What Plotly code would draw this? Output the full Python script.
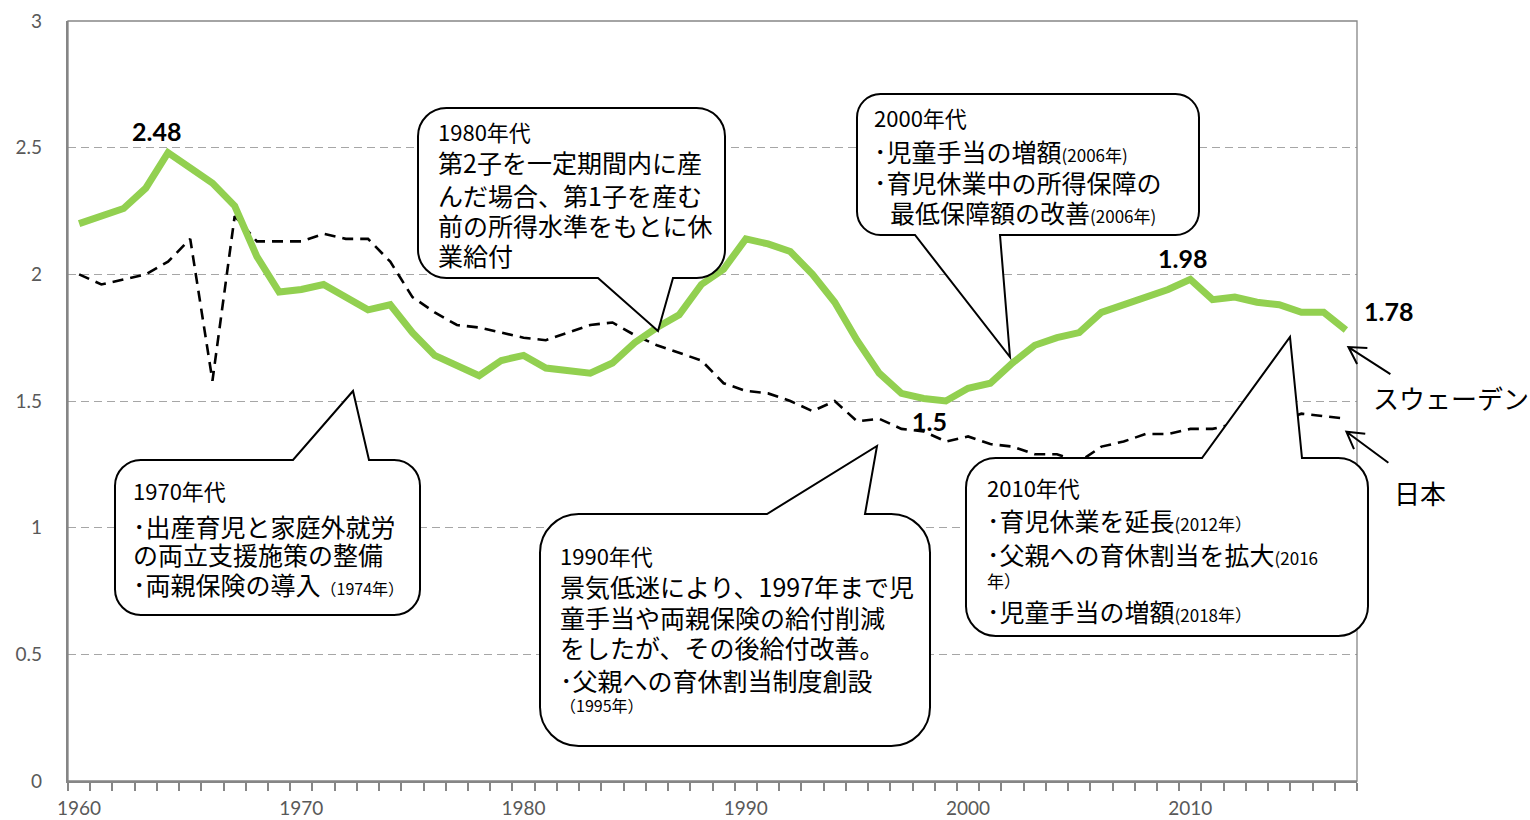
import math
import plotly.graph_objects as go

# Total fertility rate, 1960-2017
years = list(range(1960, 2018))
sweden = [2.20, 2.23, 2.26, 2.34, 2.48, 2.42, 2.36, 2.27, 2.07, 1.93,
          1.94, 1.96, 1.91, 1.86, 1.88, 1.77, 1.68, 1.64, 1.60, 1.66,
          1.68, 1.63, 1.62, 1.61, 1.65, 1.73, 1.79, 1.84, 1.96, 2.02,
          2.14, 2.12, 2.09, 2.00, 1.89, 1.74, 1.61, 1.53, 1.51, 1.50,
          1.55, 1.57, 1.65, 1.72, 1.75, 1.77, 1.85, 1.88, 1.91, 1.94,
          1.98, 1.90, 1.91, 1.89, 1.88, 1.85, 1.85, 1.78]
japan = [2.00, 1.96, 1.98, 2.00, 2.05, 2.14, 1.58, 2.23, 2.13, 2.13,
         2.13, 2.16, 2.14, 2.14, 2.05, 1.91, 1.85, 1.80, 1.79, 1.77,
         1.75, 1.74, 1.77, 1.80, 1.81, 1.76, 1.72, 1.69, 1.66, 1.57,
         1.54, 1.53, 1.50, 1.46, 1.50, 1.42, 1.43, 1.39, 1.38, 1.34,
         1.36, 1.33, 1.32, 1.29, 1.29, 1.26, 1.32, 1.34, 1.37, 1.37,
         1.39, 1.39, 1.41, 1.43, 1.42, 1.45, 1.44, 1.43]

x_tick_years = [1960, 1970, 1980, 1990, 2000, 2010]
y_ticks = [0, 0.5, 1, 1.5, 2, 2.5, 3]
y_tick_text = ["0", "0.5", "1", "1.5", "2", "2.5", "3"]

# years whose Sweden value is written next to the line
labelled_years = [1964, 1999, 2010, 2017]
label_shift = {1964: (-12, 22), 1999: (-16, -20), 2010: (-8, 21), 2017: (43, 19)}

series_names = ["スウェーデン", "日本"]

JP = "Noto Sans CJK JP"
NUM = "Lato"
GREEN = "#92D050"
AXIS_GRAY = "#868686"
GRID_GRAY = "#A6A6A6"
TICK_TEXT = "#595959"

W, H = 1530, 820
PL, PR, PT, PB = 68, 1357, 21, 781
X0, X1 = 1959.5, 2017.5
Y0, Y1 = 0.0, 3.0


def fx(px):
    return (px - PL) / (PR - PL)


def fy(py):
    return (PB - py) / (PB - PT)


def data_px(year, val):
    return (PL + (year - X0) / (X1 - X0) * (PR - PL),
            PB - (val - Y0) / (Y1 - Y0) * (PB - PT))


def pt(x, y):
    return f"{fx(x):.5f},{fy(y):.5f}"


def bubble(x0, y0, x1, y1, side, bl, tip, br):
    r = min(x1 - x0, y1 - y0) / 6.0
    k = 0.5523 * r
    d = [f"M{pt(x0 + r, y0)}"]
    if side == "top":
        d += [f"L{pt(bl, y0)}", f"L{pt(*tip)}", f"L{pt(br, y0)}"]
    d += [f"L{pt(x1 - r, y0)}",
          f"C{pt(x1 - r + k, y0)} {pt(x1, y0 + r - k)} {pt(x1, y0 + r)}",
          f"L{pt(x1, y1 - r)}",
          f"C{pt(x1, y1 - r + k)} {pt(x1 - r + k, y1)} {pt(x1 - r, y1)}"]
    if side == "bottom":
        d += [f"L{pt(br, y1)}", f"L{pt(*tip)}", f"L{pt(bl, y1)}"]
    d += [f"L{pt(x0 + r, y1)}",
          f"C{pt(x0 + r - k, y1)} {pt(x0, y1 - r + k)} {pt(x0, y1 - r)}",
          f"L{pt(x0, y0 + r)}",
          f"C{pt(x0, y0 + r - k)} {pt(x0 + r - k, y0)} {pt(x0 + r, y0)}",
          "Z"]
    return " ".join(d)


def small(s, size=17):
    return f'<span style="font-size:{size}px">{s}</span>'


HEAD = 22
BODY = 25
TEXT_DY = -2

callouts = [
    dict(box=(115, 460, 420, 615), side="top", bl=293, tip=(353, 391), br=369,
         lines=[(131, 492, "1970年代", HEAD),
                (131, 528, "･出産育児と家庭外就労", BODY),
                (131, 556, "の両立支援施策の整備", BODY),
                (131, 586, "･両親保険の導入" + small("（1974年）", 16), BODY)]),
    dict(box=(418, 108, 725, 278), side="bottom", bl=598, tip=(658, 331), br=673,
         lines=[(436, 133, "1980年代", HEAD),
                (436, 164, "第2子を一定期間内に産", BODY),
                (436, 197, "んだ場合、第1子を産む", BODY),
                (436, 227, "前の所得水準をもとに休", BODY),
                (436, 257, "業給付", BODY)]),
    dict(box=(540, 514, 930, 746), side="top", bl=767, tip=(877, 446), br=865,
         lines=[(558, 557, "1990年代", HEAD),
                (558, 588, "景気低迷により、1997年まで児", BODY),
                (558, 619, "童手当や両親保険の給付削減", BODY),
                (558, 649, "をしたが、その後給付改善。", BODY),
                (558, 682, "･父親への育休割当制度創設", BODY),
                (558, 707, small("（1995年）", 16), BODY)]),
    dict(box=(857, 94, 1199, 235), side="bottom", bl=915, tip=(1010, 357), br=1000,
         lines=[(872, 119, "2000年代", HEAD),
                (872, 153, "･児童手当の増額" + small("(2006年)"), BODY),
                (872, 184, "･育児休業中の所得保障の", BODY),
                (888, 214, "最低保障額の改善" + small("(2006年)"), BODY)]),
    dict(box=(966, 458, 1368, 636), side="top", bl=1202, tip=(1290, 337), br=1302,
         lines=[(985, 489, "2010年代", HEAD),
                (985, 522, "･育児休業を延長" + small("(2012年）"), BODY),
                (985, 556, "･父親への育休割当を拡大" + small("(2016"), BODY),
                (985, 582, small("年）"), BODY),
                (985, 613, "･児童手当の増額" + small("(2018年）"), BODY)]),
]

fig = go.Figure()

fig.add_trace(go.Scatter(
    x=years, y=japan, mode="lines", name=series_names[1],
    line=dict(color="black", width=2.6, dash="11px,7px"),
    hoverinfo="skip"))
fig.add_trace(go.Scatter(
    x=years, y=sweden, mode="lines", name=series_names[0],
    line=dict(color=GREEN, width=7),
    hoverinfo="skip"))

shapes = []
# thin frame on top and right of the plot area
shapes.append(dict(type="rect", xref="paper", yref="paper", x0=0, x1=1, y0=0, y1=1,
                   line=dict(color=AXIS_GRAY, width=1.3), fillcolor="rgba(0,0,0,0)",
                   layer="above"))

annotations = []

for c in callouts:
    x0, y0, x1, y1 = c["box"]
    shapes.append(dict(type="path", xref="paper", yref="paper",
                       path=bubble(x0, y0, x1, y1, c["side"], c["bl"], c["tip"], c["br"]),
                       fillcolor="white", line=dict(color="black", width=2),
                       layer="above"))
    for lx, ly, txt, size in c["lines"]:
        annotations.append(dict(xref="paper", yref="paper", x=fx(lx), y=fy(ly + TEXT_DY),
                                xanchor="left", yanchor="middle", showarrow=False,
                                text=txt, font=dict(family=JP, size=size, color="black")))

# value labels on the Sweden line
for yr in labelled_years:
    v = sweden[years.index(yr)]
    dx, dy = label_shift[yr]
    annotations.append(dict(xref="x", yref="y", x=yr, y=v, xshift=dx, yshift=dy,
                            showarrow=False, text=f"{v:g}",
                            font=dict(family=NUM, size=25, color="black", weight="bold")))

# series names with open arrows pointing at the last points
def open_arrow(hx, hy, tx, ty, wing=19, spread=30):
    ang = math.atan2(ty - hy, tx - hx)
    pts = []
    for s in (-spread, spread):
        a = ang + math.radians(s)
        pts.append((hx + wing * math.cos(a), hy + wing * math.sin(a)))
    return (f"M{pt(tx, ty)} L{pt(hx, hy)} "
            f"M{pt(*pts[0])} L{pt(hx, hy)} L{pt(*pts[1])}")


last_sw = data_px(years[-1], sweden[-1])
last_jp = data_px(years[-1], japan[-1])
arrow_specs = [
    (last_sw[0] + 2.5, last_sw[1] + 17, last_sw[0] + 44.5, last_sw[1] + 44),
    (last_jp[0] + 0.5, last_jp[1] + 13, last_jp[0] + 42.5, last_jp[1] + 44),
]
for hx, hy, tx, ty in arrow_specs:
    shapes.append(dict(type="path", xref="paper", yref="paper",
                       path=open_arrow(hx, hy, tx, ty),
                       line=dict(color="black", width=2), layer="above"))

annotations.append(dict(xref="paper", yref="paper", x=fx(1371), y=fy(397),
                        xanchor="left", yanchor="middle", showarrow=False,
                        text=series_names[0], font=dict(family=JP, size=26, color="black")))
annotations.append(dict(xref="paper", yref="paper", x=fx(1392), y=fy(492),
                        xanchor="left", yanchor="middle", showarrow=False,
                        text=series_names[1], font=dict(family=JP, size=26, color="black")))

fig.update_layout(
    width=W, height=H,
    margin=dict(l=PL, r=W - PR, t=PT, b=H - PB, pad=0, autoexpand=False),
    plot_bgcolor="white", paper_bgcolor="white",
    showlegend=False,
    shapes=shapes, annotations=annotations,
    xaxis=dict(
        range=[X0, X1], tickmode="array", tickvals=x_tick_years,
        ticktext=[str(y) for y in x_tick_years], ticks="",
        showline=True, linecolor=AXIS_GRAY, linewidth=2.3,
        showgrid=False, zeroline=False, automargin=False,
        tickfont=dict(family=NUM, size=19, color=TICK_TEXT),
        ticklabelstandoff=9,
        minor=dict(tickmode="array", tickvals=[y - 0.5 for y in years] + [years[-1] + 0.5],
                   ticks="outside", ticklen=8, tickwidth=1.5, tickcolor=AXIS_GRAY,
                   showgrid=False),
    ),
    yaxis=dict(
        range=[Y0, Y1], tickmode="array", tickvals=y_ticks, ticktext=y_tick_text,
        ticks="", showline=True, linecolor=AXIS_GRAY, linewidth=2.3,
        showgrid=True, gridcolor=GRID_GRAY, gridwidth=1.3, griddash="8px,5px",
        zeroline=False, automargin=False,
        tickfont=dict(family=NUM, size=19, color=TICK_TEXT),
        ticklabelstandoff=20,
    ),
)

fig.write_html("out.html")
